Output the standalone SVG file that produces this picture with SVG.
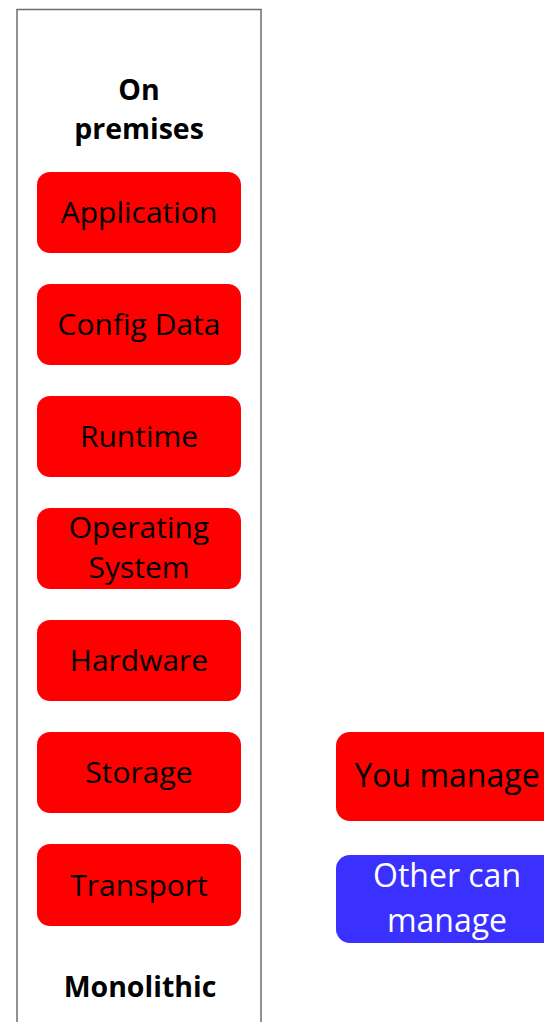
<svg xmlns="http://www.w3.org/2000/svg" width="544" height="1022" viewBox="0 0 544 1022">
<style>
.box{fill:#FF0000;}
.blue{fill:#3A30FF;}
.t{font-family:"Open Sans","Noto Sans",sans-serif;font-size:30px;text-anchor:middle;fill:#000;}
.l{font-size:32px;}
.w{fill:#FFFFFF;}
.b{font-family:"Open Sans","Noto Sans",sans-serif;font-size:28.5px;font-weight:bold;text-anchor:middle;fill:#000;}
</style>
<g id="container">
<rect x="17" y="9.5" width="244" height="1030" fill="#FFFFFF" stroke="#6E6E6E" stroke-width="1.5"/>
<text class="b" x="139" y="100">On</text>
<text class="b" x="139" y="139">premises</text>
<text class="b" x="140" y="997">Monolithic</text>
</g>
<g id="application"><rect class="box" x="37" y="172" width="204" height="81" rx="13"/><text class="t" x="139" y="223">Application</text></g>
<g id="config-data"><rect class="box" x="37" y="284" width="204" height="81" rx="13"/><text class="t" x="139" y="335">Config Data</text></g>
<g id="runtime"><rect class="box" x="37" y="396" width="204" height="81" rx="13"/><text class="t" x="139" y="447">Runtime</text></g>
<g id="operating-system"><rect class="box" x="37" y="508" width="204" height="81" rx="13"/><text class="t" x="139" y="538">Operating</text><text class="t" x="139" y="578">System</text></g>
<g id="hardware"><rect class="box" x="37" y="620" width="204" height="81" rx="13"/><text class="t" x="139" y="671">Hardware</text></g>
<g id="storage"><rect class="box" x="37" y="732" width="204" height="81" rx="13"/><text class="t" x="139" y="783">Storage</text></g>
<g id="transport"><rect class="box" x="37" y="844" width="204" height="82" rx="13"/><text class="t" x="139" y="896">Transport</text></g>
<g id="legend-you"><rect class="box" x="336" y="732" width="222" height="89" rx="14"/><text class="t l" x="447" y="787">You manage</text></g>
<g id="legend-other"><rect class="blue" x="336" y="855" width="222" height="88" rx="14"/><text class="t l w" x="447" y="887">Other can</text><text class="t l w" x="447" y="932">manage</text></g>
<g id="connectors"></g>
</svg>
